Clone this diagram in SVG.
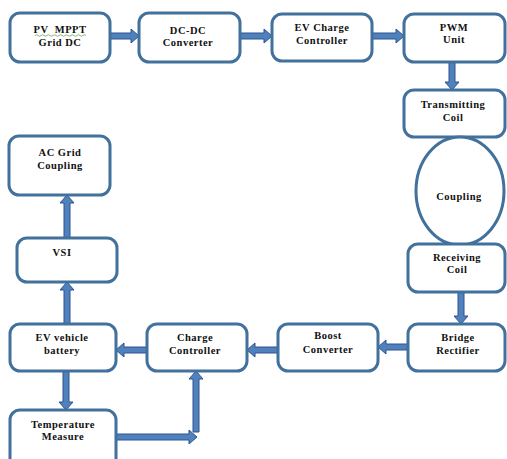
<svg xmlns="http://www.w3.org/2000/svg" width="507" height="459" viewBox="0 0 507 459">
<style>
.box{fill:#fff;stroke:#41719C;stroke-width:3}
.arr{fill:#4F81BD;stroke:#2F528F;stroke-width:1}
text{font-family:"Liberation Serif","Times New Roman",serif;font-weight:bold;font-size:10.5px;letter-spacing:0.5px;fill:#111;text-anchor:middle}
</style>
<rect width="507" height="459" fill="#fff"/>
<g id="connectors">
<polygon class="arr" points="110,33 131,33 131,29 139,36 131,43 131,39 110,39"/>
<polygon class="arr" points="240,33 264,33 264,29 272,36 264,43 264,39 240,39"/>
<polygon class="arr" points="372,33 396,33 396,29 404,36 396,43 396,39 372,39"/>
<polygon class="arr" points="449,62 449,82 445,82 452,90 459,82 455,82 455,62"/>
<polygon class="arr" points="458,292 458,316 454,316 461,324 468,316 464,316 464,292"/>
<polygon class="arr" points="408,344 386,344 386,340 378,347 386,354 386,350 408,350"/>
<polygon class="arr" points="278,347 255,347 255,343 247,350 255,357 255,353 278,353"/>
<polygon class="arr" points="147,347 124,347 124,343 116,350 124,357 124,353 147,353"/>
<polygon class="arr" points="63,371 63,402 59,402 66,410 73,402 69,402 69,371"/>
<polygon class="arr" points="116,434 189,434 189,430 197,437 189,444 189,440 116,440"/>
<polygon class="arr" points="193,432 193,379 189,379 196,371 203,379 199,379 199,432"/>
<polygon class="arr" points="64,324 64,290 60,290 67,282 74,290 70,290 70,324"/>
<polygon class="arr" points="64,238 64,203 60,203 67,195 74,203 70,203 70,238"/>
</g>
<g id="pv"><rect class="box" x="10" y="13" width="100" height="49" rx="10"/>
<text x="60" y="33">PV&#160;&#160;MPPT</text><path d="M35,35.5 q1.5,-1.5 3,0 t3,0 t3,0 t3,0 t3,0 t3,0 t3,0 t3,0 t3,0 t3,0 t3,0 t3,0 t3,0 t3,0 t3,0 t3,0 t3,0" fill="none" stroke="#6BA84F" stroke-width="0.8"/>
<text x="60" y="46">Grid DC</text></g>
<g id="dcdc"><rect class="box" x="139" y="13" width="101" height="49" rx="10"/>
<text x="188" y="34">DC-DC</text><text x="188" y="46">Converter</text></g>
<g id="evcc"><rect class="box" x="272" y="14" width="100" height="47" rx="10"/>
<text x="322" y="31">EV Charge</text><text x="322" y="44">Controller</text></g>
<g id="pwm"><rect class="box" x="404" y="14" width="101" height="48" rx="10"/>
<text x="454" y="31">PWM</text><text x="454" y="43">Unit</text></g>
<g id="tx"><rect class="box" x="404" y="90" width="101" height="47" rx="10"/>
<text x="453" y="108">Transmitting</text><text x="453" y="121">Coil</text></g>
<g id="coupling"><ellipse class="box" cx="460" cy="191" rx="44" ry="54"/>
<text x="459" y="200">Coupling</text></g>
<g id="rx"><rect class="box" x="408" y="244" width="97" height="48" rx="10"/>
<text x="457" y="261">Receiving</text><text x="457" y="273">Coil</text></g>
<g id="bridge"><rect class="box" x="408" y="324" width="97" height="47" rx="10"/>
<text x="458" y="341">Bridge</text><text x="458" y="354">Rectifier</text></g>
<g id="boost"><rect class="box" x="278" y="324" width="100" height="47" rx="10"/>
<text x="328" y="339">Boost</text><text x="328" y="353">Converter</text></g>
<g id="cc"><rect class="box" x="147" y="324" width="100" height="47" rx="10"/>
<text x="195" y="341">Charge</text><text x="195" y="354">Controller</text></g>
<g id="ev"><rect class="box" x="10" y="324" width="106" height="47" rx="10"/>
<text x="62" y="341">EV vehicle</text><text x="62" y="354">battery</text></g>
<g id="temp"><rect class="box" x="10" y="410" width="106" height="60" rx="10"/>
<text x="63" y="428">Temperature</text><text x="63" y="440">Measure</text></g>
<g id="vsi"><rect class="box" x="17" y="238" width="100" height="44" rx="10"/>
<text x="62" y="256">VSI</text></g>
<g id="acgrid"><rect class="box" x="9" y="136" width="101" height="59" rx="10"/>
<text x="60" y="156">AC Grid</text><text x="60" y="169">Coupling</text></g>
</svg>
